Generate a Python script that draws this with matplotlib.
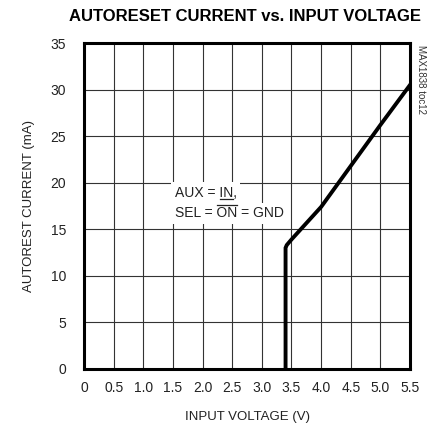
import matplotlib
matplotlib.use("Agg")
import matplotlib.pyplot as plt
import numpy as np

plt.rcParams["font.family"] = ["Liberation Sans", "DejaVu Sans"]

VOLTAGE = [3.40, 3.40, 3.42, 3.5, 4.0, 4.5, 5.0, 5.5]
CURRENT = [0.0, 13.0, 13.3, 13.9, 17.4, 21.8, 26.2, 30.5]

X_TICKS = [0, 0.5, 1.0, 1.5, 2.0, 2.5, 3.0, 3.5, 4.0, 4.5, 5.0, 5.5]
X_LABELS = ["0", "0.5", "1.0", "1.5", "2.0", "2.5", "3.0", "3.5", "4.0", "4.5", "5.0", "5.5"]
Y_TICKS = [0, 5, 10, 15, 20, 25, 30, 35]

fig = plt.figure(figsize=(4.33, 4.30), dpi=100)
ax = fig.add_axes([0.194, 0.142, 0.753, 0.758])

ax.set_xlim(0, 5.5)
ax.set_ylim(0, 35)
ax.set_xticks(X_TICKS)
ax.set_xticklabels(X_LABELS)
ax.set_yticks(Y_TICKS)
ax.tick_params(axis="x", length=0, labelsize=10, pad=9, colors="#222222")
ax.tick_params(axis="y", length=0, labelsize=10, pad=13, colors="#222222")
ax.grid(True, color="#333333", linewidth=0.8)
ax.set_axisbelow(True)
for s in ax.spines.values():
    s.set_linewidth(2.2)
    s.set_color("black")

ax.plot(VOLTAGE, CURRENT, color="black", linewidth=2.8, solid_joinstyle="miter", zorder=3)

# annotation with underline / overline drawn by hand
renderer = fig.canvas.get_renderer()
note_kw = dict(fontsize=10, va="baseline", ha="left", color="#222222", zorder=5)
box = dict(facecolor="white", edgecolor="none", pad=2.5)
x0, y1, y2 = 1.53, 18.5, 16.3
ax.text(x0, y1, "AUX = IN,", bbox=box, **note_kw)
ax.text(x0, y2, "SEL = ON = GND", bbox=box, **note_kw)


def mark(prefix, word, y, above):
    inv = ax.transData.inverted()
    pre = ax.text(x0, y, prefix, **note_kw)
    full = ax.text(x0, y, prefix + word, **note_kw)
    b0 = pre.get_window_extent(renderer)
    b1 = full.get_window_extent(renderer)
    pre.remove()
    full.remove()
    base = ax.transData.transform((x0, y))[1]
    py = base + 12 if above else base - 2
    (xa, ya) = inv.transform((b0.x1 + 1, py))
    (xb, _) = inv.transform((b1.x1, py))
    ax.plot([xa, xb], [ya, ya], color="#222222", linewidth=0.9, zorder=6)


mark("AUX = ", "IN", y1, False)
mark("SEL = ", "ON", y2, True)

ax.set_xlabel("INPUT VOLTAGE (V)", fontsize=9.5, labelpad=11, color="#222222")
ax.set_ylabel("AUTOREST CURRENT (mA)", fontsize=9.5, labelpad=11, color="#222222")

fig.text(0.565, 0.962, "AUTORESET CURRENT vs. INPUT VOLTAGE", fontsize=12,
         fontweight="bold", ha="center", va="center")
fig.text(0.972, 0.816, "MAX1838 toc12", fontsize=7, rotation=270, ha="center", va="center",
         color="#333333")

fig.savefig("out.png", dpi=100)
